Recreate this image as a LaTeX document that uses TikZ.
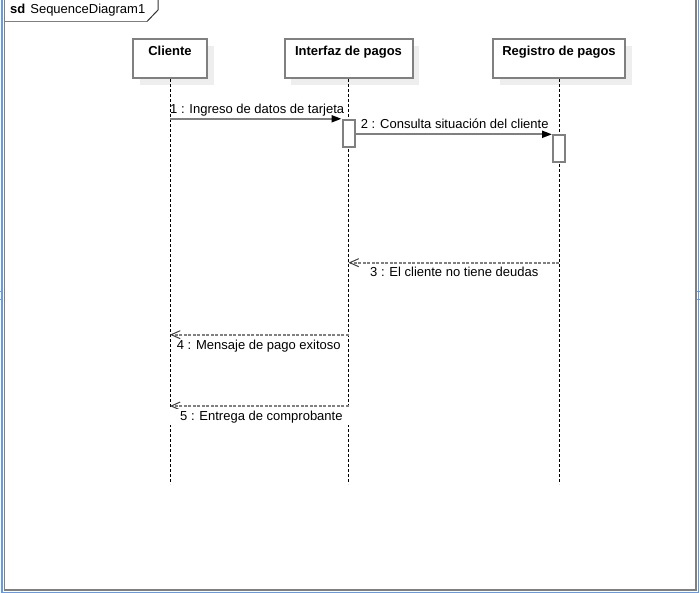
\documentclass[tikz,border=0pt]{standalone}
\usepackage{fontspec}
\setmainfont{Liberation Sans}
\usetikzlibrary{
	arrows.meta,
	shadows,
	calc
}
\usepackage{xcolor}
\definecolor{umlgray}{HTML}{808080}
\definecolor{shadowgray}{HTML}{EEEEEE}
\definecolor{winblue}{HTML}{6699E6}
\tikzset{
	lifebox/.style={draw=umlgray, line width=2pt, fill=white, inner sep=0pt, text height=17pt, text depth=22pt, minimum height=39pt, font=\fontsize{13}{15}\selectfont\bfseries, drop shadow={shadow xshift=6.5pt, shadow yshift=-7.5pt, fill=shadowgray, opacity=1}},
	actbox/.style={draw=umlgray, line width=2pt, fill=white, minimum width=12pt, minimum height=27pt, inner sep=0pt},
	lifeline/.style={black, line width=1pt, dash pattern=on 3pt off 2pt},
	call/.style={umlgray, line width=2pt, -{Triangle[length=10pt,width=7pt,color=black]}},
	reply/.style={umlgray, line width=2pt, dash pattern=on 3pt off 1.5pt, -{Straight Barb[length=9pt,width=8pt,line width=1pt,color=black!75]}},
	msglabel/.style={anchor=base west, inner sep=0pt, font=\fontsize{13}{15}\selectfont}
}

\begin{document}
\begin{tikzpicture}[x=1pt, y=-1pt]
                \useasboundingbox (0,0) rectangle (700,593);
                \fill[white] (0,0) rectangle (700,593);
                \draw[winblue, line width=1.5pt] (2,0) -- (2,592.5) -- (698.5,592.5) -- (698.5,0);
                \draw[winblue, line width=1pt] (0,291) -- (3,291) (0,299) -- (3,299) (697,291) -- (700,291) (697,299) -- (700,299);
                \draw[umlgray, line width=1.5pt] (4.5,0) -- (4.5,590) -- (695.8,590) -- (695.8,0);
                \draw[umlgray, line width=1.5pt] (4.5,21.5) -- (147,21.5);
                \draw[black!80, line width=1pt] (147,21.5) -- (158,10) -- (158,0);
                \node[msglabel] (title) at (10,14) {\textbf{sd}\hspace{5pt}SequenceDiagram1};

                \node[lifebox, minimum width=74pt] (cliente) at (170,58.5) {Cliente};
                \node[lifebox, minimum width=128pt] (interfaz) at (348.5,58.5) {Interfaz de pagos};
                \node[lifebox, minimum width=132pt] (registro) at (559,58.5) {Registro de pagos};

                \coordinate (cliente-end) at (cliente |- 0,484);
                \coordinate (interfaz-end) at (interfaz |- 0,484);
                \coordinate (registro-end) at (registro |- 0,484);
                \draw[lifeline] (cliente.south) -- (cliente-end);
                \draw[lifeline] (interfaz.south) -- (interfaz-end);
                \draw[lifeline] (registro.south) -- (registro-end);

                \node[actbox] (act1) at (348.5,133.3) {};
                \node[actbox] (act2) at (559,148.8) {};

                \draw[call] (cliente |- act1.north west) -- (act1.north west);
                \draw[call] (act1.east |- act2.north west) -- (act2.north west);
                \draw[reply] (registro |- 0,262.7) -- (interfaz |- 0,262.7);
                \draw[reply] (interfaz |- 0,334.7) -- (cliente |- 0,334.7);
                \draw[reply] (interfaz |- 0,406) -- (cliente |- 0,406);

                \node[msglabel] (m1) at (170,113.3) {1 : Ingreso de datos de tarjeta};
                \node[msglabel] (m2) at (360.7,128.3) {2 : Consulta situación del cliente};
                \node[msglabel] (m3) at (370,276.7) {3 : El cliente no tiene deudas};
                \node[msglabel] (m4) at (176.7,349) {4 : Mensaje de pago exitoso};
                \node[msglabel, fill=white, inner xsep=10pt, inner ysep=2pt] (m5) at (170,420.7) {5 : Entrega de comprobante};
            \end{tikzpicture}
\end{document}
